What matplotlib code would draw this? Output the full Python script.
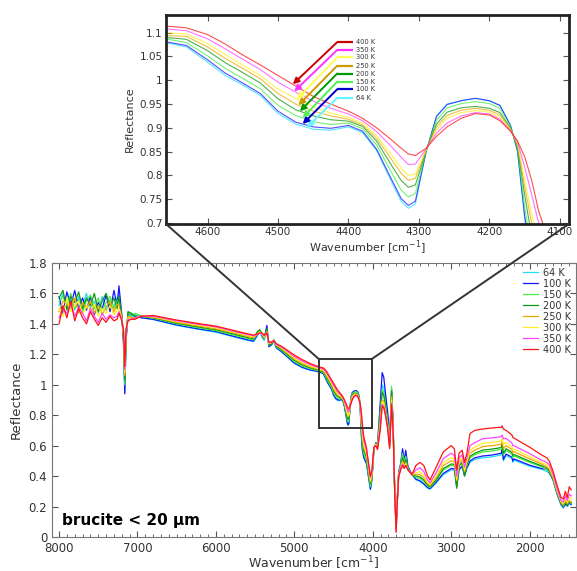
import numpy as np
import matplotlib
matplotlib.use('Agg')
from matplotlib import pyplot as plt
from matplotlib.patches import Rectangle, ConnectionPatch
from matplotlib.ticker import MultipleLocator, FuncFormatter

# wavenumber grid (cm-1), same for all temperatures
wavenumber = [8000, 7950, 7900, 7850, 7800, 7750, 7700, 7650, 7600, 7550, 7500, 7450, 7400, 7350, 7300, 7260,
              7236, 7200, 7178, 7162, 7145, 7120, 7080, 7030, 6950,
              6800, 6500, 6200, 6000, 5800, 5600, 5520,
              5470, 5440, 5410, 5385, 5350, 5325, 5290, 5260, 5230,
              5150, 5000, 4900, 4800, 4720,
              4660, 4630, 4600, 4575, 4550, 4525, 4500, 4475, 4450, 4425,
              4400, 4380, 4360, 4340, 4325, 4315, 4305, 4290, 4275, 4260,
              4240, 4220, 4200, 4185, 4170, 4160, 4150, 4140, 4130, 4115,
              4080, 4050, 4030, 4010, 3985, 3960, 3940, 3905, 3880, 3860, 3835, 3810, 3785,
              3760, 3740, 3720, 3702, 3690, 3670, 3645, 3620, 3600, 3580, 3550, 3500,
              3450, 3400, 3350, 3300, 3270, 3200, 3100, 3000, 2960, 2930, 2900, 2860, 2830, 2800,
              2760, 2700, 2600, 2500, 2400, 2360, 2350, 2335, 2300, 2225, 2215, 2200,
              2000, 1850, 1780, 1750, 1700, 1650, 1600, 1570, 1545, 1520, 1495, 1470]

r64 = [1.52, 1.60, 1.50, 1.57, 1.49, 1.58, 1.52, 1.60, 1.50, 1.55, 1.47, 1.58, 1.49, 1.56, 1.51, 1.57,
       1.60, 1.45, 1.28, 0.95, 1.30, 1.47, 1.44, 1.46, 1.44,
       1.428, 1.39, 1.362, 1.345, 1.318, 1.292, 1.283,
       1.32, 1.35, 1.31, 1.29, 1.37, 1.25, 1.26, 1.285, 1.24,
       1.21, 1.14, 1.112, 1.095, 1.088,
       1.079, 1.070, 1.038, 1.010, 0.990, 0.968, 0.930, 0.908, 0.897, 0.895,
       0.902, 0.890, 0.852, 0.790, 0.745, 0.731, 0.740, 0.848, 0.925, 0.950,
       0.957, 0.962, 0.957, 0.947, 0.905, 0.850, 0.712, 0.610, 0.560, 0.520,
       0.48, 0.38, 0.31, 0.38, 0.58, 0.62, 0.60, 0.85, 1.00, 0.98, 0.90, 0.80, 0.63,
       0.95, 0.72, 0.30, 0.07, 0.22, 0.42, 0.47, 0.57, 0.49, 0.55, 0.45, 0.41,
       0.375, 0.365, 0.345, 0.32, 0.315, 0.35, 0.41, 0.44, 0.44, 0.33, 0.44, 0.46, 0.40, 0.45,
       0.49, 0.51, 0.52, 0.525, 0.535, 0.54, 0.58, 0.50, 0.535, 0.515, 0.49, 0.505,
       0.465, 0.445, 0.43, 0.42, 0.37, 0.28, 0.21, 0.19, 0.22, 0.20, 0.22, 0.21]

r100 = [1.58, 1.47, 1.61, 1.52, 1.62, 1.50, 1.57, 1.49, 1.58, 1.46, 1.54, 1.50, 1.59, 1.48, 1.62, 1.52,
        1.65, 1.46, 1.27, 0.94, 1.29, 1.47, 1.46, 1.45, 1.44,
        1.43, 1.393, 1.365, 1.35, 1.322, 1.296, 1.287,
        1.33, 1.36, 1.32, 1.30, 1.39, 1.25, 1.265, 1.29, 1.245,
        1.212, 1.143, 1.115, 1.098, 1.09,
        1.081, 1.073, 1.043, 1.015, 0.994, 0.972, 0.935, 0.912, 0.902, 0.899,
        0.905, 0.893, 0.855, 0.795, 0.751, 0.737, 0.746, 0.849, 0.924, 0.949,
        0.957, 0.962, 0.957, 0.947, 0.905, 0.851, 0.716, 0.615, 0.565, 0.525,
        0.483, 0.385, 0.315, 0.38, 0.58, 0.62, 0.60, 0.88, 1.08, 1.05, 0.93, 0.82, 0.64,
        0.97, 0.73, 0.30, 0.07, 0.23, 0.43, 0.48, 0.58, 0.50, 0.57, 0.46, 0.41,
        0.38, 0.37, 0.35, 0.325, 0.318, 0.355, 0.418, 0.45, 0.448, 0.335, 0.445, 0.465, 0.405, 0.455,
        0.50, 0.52, 0.532, 0.537, 0.546, 0.551, 0.59, 0.51, 0.545, 0.524, 0.50, 0.513,
        0.472, 0.45, 0.445, 0.425, 0.375, 0.285, 0.215, 0.195, 0.215, 0.205, 0.225, 0.215]

r150 = [1.55, 1.58, 1.52, 1.60, 1.50, 1.56, 1.48, 1.55, 1.59, 1.50, 1.57, 1.49, 1.54, 1.58, 1.50, 1.55,
        1.56, 1.45, 1.30, 1.00, 1.32, 1.48, 1.45, 1.47, 1.45,
        1.437, 1.40, 1.372, 1.356, 1.33, 1.304, 1.295,
        1.34, 1.355, 1.33, 1.30, 1.36, 1.26, 1.27, 1.29, 1.25,
        1.22, 1.152, 1.123, 1.105, 1.096,
        1.087, 1.079, 1.051, 1.025, 1.004, 0.982, 0.947, 0.926, 0.913, 0.907,
        0.910, 0.898, 0.864, 0.809, 0.769, 0.755, 0.762, 0.850, 0.916, 0.942,
        0.951, 0.955, 0.951, 0.941, 0.902, 0.856, 0.735, 0.640, 0.590, 0.545,
        0.50, 0.40, 0.33, 0.39, 0.58, 0.615, 0.59, 0.82, 0.97, 0.95, 0.86, 0.76, 0.61,
        0.99, 0.74, 0.31, 0.06, 0.22, 0.42, 0.47, 0.55, 0.49, 0.53, 0.45, 0.41,
        0.39, 0.385, 0.365, 0.335, 0.326, 0.365, 0.44, 0.47, 0.468, 0.345, 0.46, 0.48, 0.415, 0.47,
        0.52, 0.54, 0.559, 0.563, 0.572, 0.576, 0.60, 0.54, 0.568, 0.545, 0.52, 0.533,
        0.49, 0.462, 0.44, 0.43, 0.38, 0.29, 0.22, 0.20, 0.23, 0.21, 0.23, 0.22]

r200 = [1.57, 1.62, 1.49, 1.58, 1.54, 1.61, 1.50, 1.57, 1.52, 1.60, 1.48, 1.55, 1.60, 1.51, 1.57, 1.50,
        1.58, 1.44, 1.31, 1.03, 1.33, 1.48, 1.47, 1.45, 1.45,
        1.44, 1.405, 1.378, 1.362, 1.337, 1.311, 1.302,
        1.35, 1.36, 1.335, 1.31, 1.37, 1.26, 1.27, 1.295, 1.255,
        1.226, 1.16, 1.131, 1.112, 1.101,
        1.090, 1.086, 1.062, 1.037, 1.016, 0.994, 0.961, 0.938, 0.925, 0.917,
        0.914, 0.903, 0.872, 0.824, 0.789, 0.775, 0.780, 0.851, 0.908, 0.933,
        0.942, 0.945, 0.941, 0.932, 0.899, 0.861, 0.760, 0.672, 0.620, 0.570,
        0.52, 0.42, 0.35, 0.40, 0.585, 0.615, 0.59, 0.80, 0.95, 0.93, 0.85, 0.75, 0.60,
        0.96, 0.73, 0.30, 0.06, 0.22, 0.41, 0.46, 0.52, 0.48, 0.51, 0.45, 0.41,
        0.40, 0.395, 0.375, 0.34, 0.331, 0.37, 0.45, 0.48, 0.477, 0.32, 0.47, 0.49, 0.40, 0.475,
        0.53, 0.55, 0.571, 0.576, 0.584, 0.588, 0.61, 0.55, 0.58, 0.555, 0.535, 0.542,
        0.498, 0.468, 0.455, 0.44, 0.385, 0.295, 0.225, 0.205, 0.225, 0.21, 0.235, 0.225]

r250 = [1.48, 1.55, 1.53, 1.50, 1.57, 1.47, 1.54, 1.50, 1.55, 1.47, 1.52, 1.46, 1.51, 1.55, 1.48, 1.53,
        1.52, 1.44, 1.33, 1.06, 1.34, 1.45, 1.44, 1.44, 1.45,
        1.443, 1.41, 1.384, 1.368, 1.344, 1.318, 1.309,
        1.33, 1.35, 1.33, 1.31, 1.35, 1.27, 1.275, 1.29, 1.26,
        1.232, 1.168, 1.139, 1.118, 1.106,
        1.094, 1.092, 1.070, 1.046, 1.025, 1.003, 0.972, 0.950, 0.935, 0.925,
        0.918, 0.906, 0.878, 0.836, 0.804, 0.790, 0.794, 0.852, 0.902, 0.926,
        0.937, 0.941, 0.937, 0.927, 0.897, 0.864, 0.778, 0.700, 0.645, 0.590,
        0.54, 0.43, 0.36, 0.41, 0.585, 0.61, 0.585, 0.76, 0.90, 0.89, 0.82, 0.74, 0.60,
        0.92, 0.71, 0.29, 0.05, 0.21, 0.41, 0.46, 0.50, 0.47, 0.49, 0.44, 0.41,
        0.41, 0.41, 0.39, 0.35, 0.338, 0.385, 0.47, 0.50, 0.495, 0.37, 0.485, 0.505, 0.43, 0.49,
        0.55, 0.57, 0.594, 0.599, 0.606, 0.61, 0.63, 0.58, 0.60, 0.574, 0.555, 0.56,
        0.514, 0.48, 0.46, 0.445, 0.39, 0.30, 0.23, 0.21, 0.24, 0.22, 0.24, 0.23]

r300 = [1.50, 1.45, 1.57, 1.48, 1.52, 1.55, 1.46, 1.52, 1.49, 1.53, 1.45, 1.50, 1.47, 1.52, 1.46, 1.49,
        1.50, 1.43, 1.34, 1.08, 1.35, 1.44, 1.43, 1.44, 1.45,
        1.447, 1.415, 1.39, 1.374, 1.35, 1.324, 1.315,
        1.335, 1.345, 1.33, 1.315, 1.34, 1.27, 1.28, 1.29, 1.265,
        1.238, 1.176, 1.147, 1.124, 1.111,
        1.100, 1.097, 1.077, 1.054, 1.032, 1.010, 0.981, 0.962, 0.944, 0.931,
        0.922, 0.910, 0.884, 0.845, 0.815, 0.800, 0.803, 0.853, 0.896, 0.920,
        0.932, 0.936, 0.933, 0.922, 0.896, 0.867, 0.792, 0.720, 0.665, 0.605,
        0.55, 0.44, 0.37, 0.42, 0.59, 0.61, 0.58, 0.74, 0.89, 0.88, 0.81, 0.73, 0.59,
        0.90, 0.70, 0.29, 0.05, 0.21, 0.40, 0.45, 0.49, 0.46, 0.48, 0.44, 0.41,
        0.42, 0.43, 0.405, 0.36, 0.346, 0.395, 0.49, 0.52, 0.512, 0.38, 0.50, 0.52, 0.44, 0.50,
        0.57, 0.59, 0.616, 0.62, 0.628, 0.632, 0.65, 0.61, 0.62, 0.592, 0.575, 0.577,
        0.529, 0.49, 0.475, 0.46, 0.40, 0.31, 0.235, 0.22, 0.25, 0.23, 0.26, 0.25]

r350 = [1.44, 1.50, 1.47, 1.53, 1.45, 1.51, 1.47, 1.42, 1.50, 1.45, 1.41, 1.47, 1.43, 1.46, 1.44, 1.45,
        1.48, 1.43, 1.35, 1.10, 1.36, 1.43, 1.43, 1.44, 1.45,
        1.45, 1.42, 1.395, 1.38, 1.355, 1.33, 1.321,
        1.33, 1.34, 1.335, 1.32, 1.34, 1.275, 1.28, 1.29, 1.265,
        1.243, 1.185, 1.156, 1.132, 1.118,
        1.108, 1.104, 1.087, 1.066, 1.044, 1.022, 0.996, 0.975, 0.956, 0.941,
        0.929, 0.915, 0.892, 0.862, 0.838, 0.823, 0.824, 0.855, 0.889, 0.910,
        0.925, 0.932, 0.929, 0.918, 0.894, 0.870, 0.818, 0.760, 0.700, 0.635,
        0.57, 0.46, 0.39, 0.43, 0.59, 0.60, 0.58, 0.72, 0.87, 0.86, 0.80, 0.72, 0.59,
        0.88, 0.70, 0.28, 0.04, 0.20, 0.40, 0.45, 0.48, 0.46, 0.47, 0.44, 0.41,
        0.44, 0.455, 0.43, 0.375, 0.355, 0.415, 0.515, 0.55, 0.537, 0.40, 0.52, 0.54, 0.46, 0.52,
        0.60, 0.62, 0.645, 0.65, 0.656, 0.66, 0.67, 0.645, 0.648, 0.617, 0.60, 0.60,
        0.548, 0.505, 0.49, 0.475, 0.41, 0.32, 0.24, 0.23, 0.27, 0.24, 0.28, 0.27]

r400 = [1.40, 1.52, 1.44, 1.55, 1.42, 1.50, 1.44, 1.40, 1.48, 1.43, 1.39, 1.44, 1.41, 1.45, 1.42, 1.43,
        1.47, 1.42, 1.36, 1.12, 1.37, 1.42, 1.43, 1.43, 1.45,
        1.455, 1.425, 1.40, 1.385, 1.36, 1.335, 1.326,
        1.335, 1.34, 1.34, 1.325, 1.34, 1.28, 1.28, 1.29, 1.27,
        1.248, 1.195, 1.165, 1.14, 1.124,
        1.114, 1.110, 1.096, 1.076, 1.053, 1.032, 1.010, 0.988, 0.966, 0.950,
        0.935, 0.920, 0.900, 0.876, 0.857, 0.845, 0.842, 0.857, 0.882, 0.902,
        0.920, 0.930, 0.927, 0.915, 0.893, 0.872, 0.840, 0.790, 0.725, 0.660,
        0.585, 0.47, 0.40, 0.44, 0.59, 0.60, 0.575, 0.70, 0.86, 0.85, 0.79, 0.71, 0.58,
        0.87, 0.69, 0.28, 0.03, 0.20, 0.39, 0.44, 0.47, 0.45, 0.47, 0.44, 0.41,
        0.47, 0.49, 0.47, 0.40, 0.375, 0.45, 0.56, 0.60, 0.58, 0.44, 0.55, 0.57, 0.49, 0.55,
        0.68, 0.70, 0.71, 0.715, 0.72, 0.72, 0.73, 0.71, 0.70, 0.67, 0.655, 0.65,
        0.59, 0.54, 0.52, 0.50, 0.43, 0.34, 0.26, 0.25, 0.30, 0.26, 0.33, 0.31]

temps = ['64 K', '100 K', '150 K', '200 K', '250 K', '300 K', '350 K', '400 K']
spectra = [r64, r100, r150, r200, r250, r300, r350, r400]
colors = ['#22dcff', '#1414ff', '#44ee44', '#119911', '#f0a800', '#ffee22', '#ff44ff', '#ff1414']
arrow_colors = ['#66f4ff', '#0000cc', '#55ee55', '#009900', '#cc9900', '#ffff55', '#ff33ff', '#cc0000']

# annotation layout in the inset (64 K ... 400 K)
label_y = [0.963, 0.981, 0.997, 1.014, 1.0305, 1.048, 1.0635, 1.080]
tip_x = [4459, 4465, 4465, 4469, 4471, 4473, 4477, 4479]

fmt = FuncFormatter(lambda v, p: f'{v:g}')
text_c = '#333333'

fig = plt.figure(figsize=(5.77, 5.71), dpi=100)
ax = fig.add_axes([0.0901, 0.0595, 0.908, 0.48])
ax_in = fig.add_axes([0.2877, 0.6077, 0.6984, 0.366])

wn = np.array(wavenumber)
for name, r, c in zip(temps, spectra, colors):
    ax.plot(wn, r, color=c, lw=0.9, label=name)
    ax_in.plot(wn, r, color=c, lw=0.8, alpha=0.75)

# main axes
ax.set_xlim(8090, 1410)
ax.set_ylim(0, 1.8)
ax.xaxis.set_major_locator(MultipleLocator(1000))
ax.xaxis.set_minor_locator(MultipleLocator(100))
ax.yaxis.set_major_locator(MultipleLocator(0.2))
ax.yaxis.set_major_formatter(fmt)
ax.tick_params(which='both', direction='in', top=True, right=True, colors='#555555',
               labelcolor=text_c, labelsize=8.5)
ax.tick_params(which='major', length=4)
ax.tick_params(which='minor', length=2)
for s in ax.spines.values():
    s.set_color('#777777')
ax.set_xlabel('Wavenumber [cm$^{-1}$]', fontsize=9, color=text_c, labelpad=0)
ax.set_ylabel('Reflectance', fontsize=9.5, color=text_c)
ax.text(0.019, 0.044, 'brucite < 20 µm', transform=ax.transAxes, fontsize=11,
        fontweight='bold', va='baseline', color='black')
ax.legend(loc='upper right', frameon=False, fontsize=7, labelspacing=0.1, handlelength=1.6,
          handletextpad=0.5, borderpad=0.3, borderaxespad=0.2, labelcolor=text_c)

# zoom box in main axes
box_x0, box_x1 = 4690, 4010
box_y0, box_y1 = 0.715, 1.17
ax.add_patch(Rectangle((box_x1, box_y0), box_x0 - box_x1, box_y1 - box_y0, fill=False,
                       ec='#333333', lw=1.4, zorder=5))

# inset axes
ax_in.set_xlim(4659, 4087)
ax_in.set_ylim(0.698, 1.137)
ax_in.xaxis.set_major_locator(MultipleLocator(100))
ax_in.yaxis.set_major_locator(MultipleLocator(0.05))
ax_in.yaxis.set_major_formatter(fmt)
ax_in.tick_params(direction='in', top=True, right=True, colors='#555555', labelcolor=text_c,
                  labelsize=7.5, length=4, pad=2.5)
for s in ax_in.spines.values():
    s.set_color('#222222')
    s.set_linewidth(2)
ax_in.set_xlabel('Wavenumber [cm$^{-1}$]', fontsize=8, color=text_c, labelpad=1)
ax_in.set_ylabel('Reflectance', fontsize=8, color=text_c, labelpad=3)

knee_x, line_end_x, text_x = 4416, 4394, 4390
for name, r, c, ly, tx in zip(temps, spectra, arrow_colors, label_y, tip_x):
    ty = np.interp(tx, wn[::-1], np.array(r)[::-1])
    ax_in.plot([knee_x, line_end_x], [ly, ly], color=c, lw=1.6, solid_capstyle='butt')
    ax_in.annotate('', xy=(tx, ty), xytext=(knee_x, ly),
                   arrowprops=dict(arrowstyle='-|>', color=c, lw=1.4, mutation_scale=9,
                                   shrinkA=0, shrinkB=0))
    ax_in.text(text_x, ly, name, fontsize=4.8, va='center', ha='left', color=text_c)

# connector lines between inset and zoom box
for xa, xb in [(0, box_x0), (1, box_x1)]:
    con = ConnectionPatch(xyA=(xa, 0), coordsA=ax_in.transAxes, xyB=(xb, box_y1),
                          coordsB=ax.transData, color='#333333', lw=1.4)
    fig.add_artist(con)

fig.savefig('out.png', dpi=100)
